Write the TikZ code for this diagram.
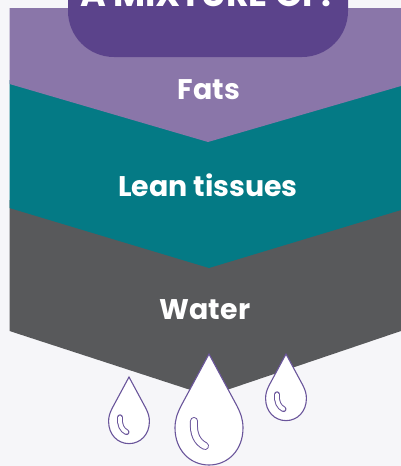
\documentclass[tikz,border=0pt]{standalone}
\usepackage{fontspec}
\setmainfont{Poppins}
\definecolor{pagebg}{HTML}{F6F6F9}
\definecolor{fatcol}{HTML}{8A76A9}
\definecolor{headcol}{HTML}{5B438B}
\definecolor{rimcol}{HTML}{6A559B}
\definecolor{leancol}{HTML}{047A85}
\definecolor{watercol}{HTML}{58595B}
\begin{document}
\begin{tikzpicture}[
    x=1pt, y=-1pt,
    layer/.style={font=\fontsize{28.4}{32}\selectfont\bfseries, text=white, inner sep=0pt},
    rim/.style={draw=rimcol, line width=1.1pt},
    pics/drop/.style={code={
        \path[rim, fill=white] (0,0) -- (-28,52) .. controls (-32,60) and (-34,66) .. (-34,74)
            .. controls (-34,96) and (-19,111) .. (0,111)
            .. controls (19,111) and (34,96) .. (34,74)
            .. controls (34,66) and (32,60) .. (28,52) -- cycle;
        \draw[rimcol, line width=#1+2pt, line cap=round] (-15,67) .. controls (-16,80) and (-12,88) .. (-4,92);
        \draw[white, line width=#1, line cap=round] (-15,67) .. controls (-16,80) and (-12,88) .. (-4,92);
    }}
]
\clip (0,0) rectangle (401,466);
\fill[pagebg] (0,0) rectangle (401,466);
% bands
\fill[watercol] (9.5,200) -- (401,200) -- (401,331) -- (209,396) -- (9.5,331) -- cycle;
\fill[leancol] (9.5,80) -- (401,80) -- (401,210) -- (209,268) -- (9.5,208) -- cycle;
\fill[fatcol] (9.5,8) -- (401,8) -- (401,86) -- (208,142) -- (9.5,84) -- cycle;
\fill[headcol, rounded corners=46pt] (68,-60) rectangle (348,57);
% labels
\node[layer, font=\fontsize{35}{38}\selectfont\bfseries, anchor=base] (head) at (206,6.5) {A MIXTURE OF:};
\node[layer, anchor=base] (fats) at (209,99) {Fats};
\node[layer, anchor=base] (lean) at (208,196) {Lean tissues};
\node[layer, anchor=base] (water) at (205,319) {Water};
% drops
\pic at (209,354) {drop=6pt};
\pic[scale=.6] at (129,377) {drop=3.8pt};
\pic[scale=.6] at (286,354) {drop=3.8pt};
\end{tikzpicture}
\end{document}
